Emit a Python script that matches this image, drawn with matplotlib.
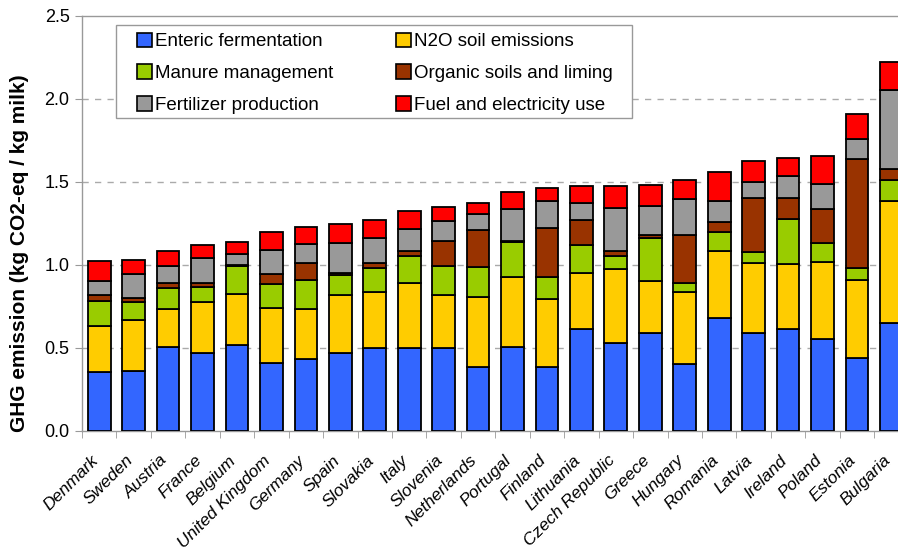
import numpy as np
import matplotlib
matplotlib.use("Agg")
import matplotlib.pyplot as plt
from matplotlib.patches import Patch, Rectangle

plt.rcParams['font.family'] = ['Liberation Sans', 'DejaVu Sans']

countries = ["Denmark", "Sweden", "Austria", "France", "Belgium", "United Kingdom",
             "Germany", "Spain", "Slovakia", "Italy", "Slovenia", "Netherlands",
             "Portugal", "Finland", "Lithuania", "Czech Republic", "Greece", "Hungary",
             "Romania", "Latvia", "Ireland", "Poland", "Estonia", "Bulgaria"]

enteric = [0.35, 0.36, 0.505, 0.47, 0.515, 0.41, 0.43, 0.47, 0.495, 0.50, 0.50, 0.385,
           0.505, 0.38, 0.615, 0.525, 0.59, 0.40, 0.68, 0.59, 0.61, 0.55, 0.44, 0.65]
n2o = [0.28, 0.305, 0.23, 0.305, 0.31, 0.33, 0.30, 0.35, 0.34, 0.39, 0.315, 0.42,
       0.42, 0.415, 0.335, 0.45, 0.31, 0.435, 0.40, 0.42, 0.395, 0.465, 0.47, 0.735]
manure = [0.15, 0.11, 0.125, 0.09, 0.165, 0.145, 0.175, 0.115, 0.145, 0.16, 0.18, 0.18,
          0.21, 0.13, 0.17, 0.08, 0.26, 0.055, 0.115, 0.065, 0.27, 0.115, 0.07, 0.125]
organic = [0.035, 0.025, 0.03, 0.025, 0.01, 0.06, 0.105, 0.015, 0.03, 0.03, 0.15, 0.225,
           0.01, 0.295, 0.15, 0.03, 0.02, 0.29, 0.065, 0.325, 0.13, 0.205, 0.655, 0.07]
fertilizer = [0.085, 0.145, 0.105, 0.15, 0.065, 0.145, 0.115, 0.18, 0.15, 0.135, 0.12, 0.095,
              0.19, 0.165, 0.10, 0.255, 0.175, 0.215, 0.125, 0.10, 0.13, 0.15, 0.125, 0.475]
fuel = [0.12, 0.085, 0.085, 0.08, 0.07, 0.105, 0.10, 0.115, 0.11, 0.11, 0.085, 0.07,
        0.105, 0.075, 0.105, 0.135, 0.125, 0.115, 0.175, 0.125, 0.11, 0.17, 0.15, 0.17]

series = [
    ("Enteric fermentation", enteric, "#3366FF"),
    ("N2O soil emissions", n2o, "#FFCC00"),
    ("Manure management", manure, "#99CC00"),
    ("Organic soils and liming", organic, "#993300"),
    ("Fertilizer production", fertilizer, "#999999"),
    ("Fuel and electricity use", fuel, "#FF0000"),
]

W, H = 898, 552
fig = plt.figure(figsize=(W / 100, H / 100), dpi=100)
ax = fig.add_axes([82 / W, 1 - 430.5 / H, 826.6 / W, 414.5 / H])

x = np.arange(len(countries))
bottom = np.zeros(len(countries))
handles = {}
for name, vals, color in series:
    vals = np.array(vals)
    ax.bar(x, vals, width=0.66, bottom=bottom, color=color, edgecolor="black",
           linewidth=1.3, zorder=3)
    bottom += vals
    handles[name] = Patch(facecolor=color, edgecolor="black", linewidth=1.2)

ax.set_xlim(-0.5, len(countries) - 0.5)
ax.set_ylim(0, 2.5)
ax.set_yticks([0, 0.5, 1.0, 1.5, 2.0, 2.5])
ax.set_yticklabels(["0.0", "0.5", "1.0", "1.5", "2.0", "2.5"], fontsize=13)
ax.set_xticks(x)
ax.set_xticklabels(countries, rotation=45, ha="right", va="baseline",
                   rotation_mode="anchor", fontsize=12.5, style="italic")
ax.set_xticks(np.arange(len(countries) + 1) - 0.5, minor=True)
ax.tick_params(axis="x", which="major", length=0, pad=22)
ax.tick_params(axis="x", which="minor", length=5, color="#999999")
ax.tick_params(axis="y", length=5, color="#999999", pad=4)

for yv in [0.5, 1.0, 1.5, 2.0]:
    ax.axhline(yv, color="#AAAAAA", linestyle=(0, (4.5, 4.5)), linewidth=1.0, zorder=1)

for side in ["left", "bottom", "top", "right"]:
    ax.spines[side].set_color("#999999")
    ax.spines[side].set_linewidth(1.0)

ax.set_ylabel("GHG emission (kg CO2-eq / kg milk)", fontsize=15, fontweight="bold")
ax.yaxis.set_label_coords(-0.064, 0.428)

# legend frame drawn separately so the padding matches
fig.patches.append(Rectangle((116 / W, 1 - 118 / H), (632 - 116) / W, (118 - 25) / H,
                             transform=fig.transFigure, facecolor="white",
                             edgecolor="#999999", linewidth=1.0, zorder=4))

order = ["Enteric fermentation", "Manure management", "Fertilizer production",
         "N2O soil emissions", "Organic soils and liming", "Fuel and electricity use"]
leg = fig.legend([handles[n] for n in order], order, ncol=2, loc="upper left",
                 bbox_to_anchor=(137 / W, 1 - 32.5 / H), bbox_transform=fig.transFigure,
                 fontsize=13.5, frameon=False, borderpad=0, borderaxespad=0,
                 handlelength=0.8, handleheight=0.8, handletextpad=0.15,
                 labelspacing=0.76, columnspacing=3.38)
leg.set_zorder(5)

fig.savefig("out.png", dpi=100)
